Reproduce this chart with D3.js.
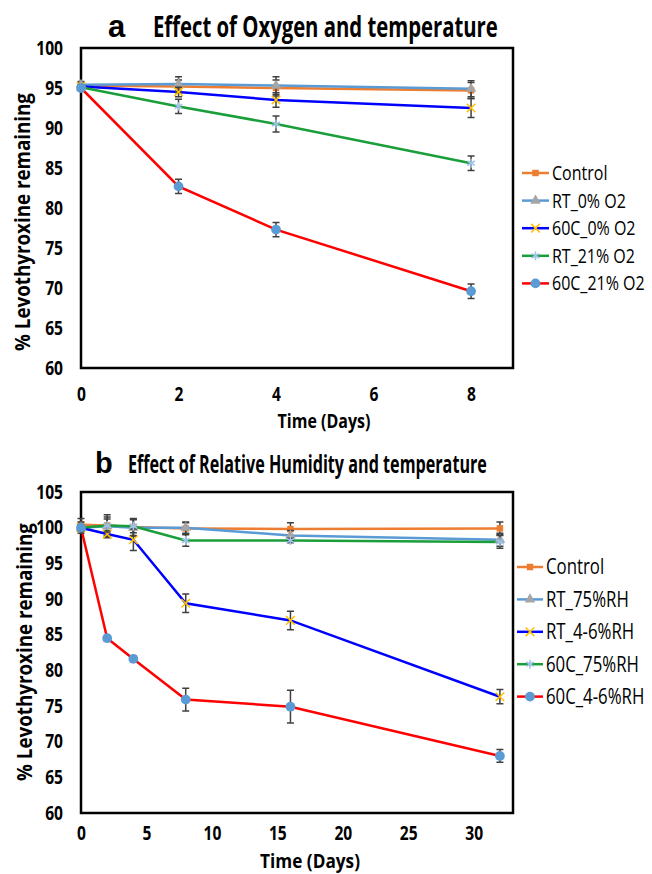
<!DOCTYPE html>
<html>
<head>
<meta charset="utf-8">
<script src="https://cdn.jsdelivr.net/npm/d3@7"></script>
<style>
body { margin: 0; background: #fff; }
svg { display: block; font-family: 'Open Sans', sans-serif; }
</style>
</head>
<body>
<div id="chart"></div>
<script>
// panel a : oxygen
var daysA = [0, 2, 4, 8];
var namesA = ['Control', 'RT_0% O2', '60C_0% O2', 'RT_21% O2', '60C_21% O2'];
var valuesA = [
    [95.3, 95.2, 95.0, 94.7],
    [95.4, 95.5, 95.3, 94.9],
    [95.2, 94.5, 93.5, 92.5],
    [95.1, 92.7, 90.5, 85.6],
    [95.0, 82.7, 77.3, 69.6]
];
var errorsA = [
    [0.4, 0.8, 1.0, 1.0],
    [0.4, 0.9, 1.1, 1.0],
    [0.3, 0.6, 0.9, 1.2],
    [0.3, 0.9, 1.0, 0.9],
    [0.3, 0.9, 0.9, 0.9]
];
var xTicksA = [0, 2, 4, 6, 8];
var yTicksA = [60, 65, 70, 75, 80, 85, 90, 95, 100];

// panel b : relative humidity
var daysB = [0, 2, 4, 8, 16, 32];
var namesB = ['Control', 'RT_75%RH', 'RT_4-6%RH', '60C_75%RH', '60C_4-6%RH'];
var valuesB = [
    [100.4, 100.3, 100.1, 99.9, 99.8, 99.9],
    [100.0, 100.2, 100.0, 100.0, 98.9, 98.3],
    [100.0, 99.1, 98.3, 89.4, 87.0, 76.3],
    [100.0, 100.3, 100.2, 98.2, 98.2, 98.0],
    [100.0, 84.5, 81.6, 75.9, 74.9, 68.0]
];
var errorsB = [
    [0.9, 1.5, 1.2, 0.8, 0.9, 0.9],
    [0.8, 1.3, 1.2, 0.8, 0.7, 0.9],
    [0.4, 0.5, 1.5, 1.3, 1.3, 1.0],
    [0.4, 0.9, 0.9, 0.8, 0.3, 0.9],
    [0.4, 0.4, 0.4, 1.6, 2.3, 0.9]
];
var xTicksB = [0, 5, 10, 15, 20, 25, 30];
var yTicksB = [60, 65, 70, 75, 80, 85, 90, 95, 100, 105];

var width = 652, height = 874;

// series styles, same order in both panels
var lineColors = ['#ed7d31', '#5b9bd5', '#0000ff', '#1a9e3a', '#ff0000'];
var markFill = ['#ed7d31', '#a5a5a5', 'none', 'none', '#5b9bd5'];
var markStroke = ['#ed7d31', '#a5a5a5', '#ffc000', '#9dc3e6', '#5b9bd5'];
var markType = [d3.symbolSquare, d3.symbolTriangle, d3.symbolTimes || d3.symbolCross,
    d3.symbolAsterisk || d3.symbolStar, d3.symbolCircle];
var markSize = [42, 48, 50, 55, 75];
var errColor = '#404040';

var svg = d3.select('#chart')
    .append('svg')
    .attr('width', width)
    .attr('height', height);

// the source figure is squeezed sideways, so text is narrowed to fit
function squeeze(sel, k) {
    sel.each(function() {
        var w = this.getComputedTextLength();
        d3.select(this).attr('textLength', w * k).attr('lengthAdjust', 'spacingAndGlyphs');
    });
}
// text placed at (x, y), turned by rot, scaled sideways to width w
function fitText(parent, x, y, rot, w, txt, size, anchor) {
    var gg = parent.append('g');
    var t = gg.append('text')
        .attr('text-anchor', anchor || 'start')
        .attr('font-weight', 'bold')
        .attr('font-size', size)
        .text(txt);
    var k = w / t.node().getComputedTextLength();
    gg.attr('transform', 'translate(' + x + ',' + y + ') rotate(' + rot + ') scale(' + k + ',1)');
    return t;
}

function drawPanel(p) {
    var x = d3.scaleLinear().domain([0, p.xMax]).range([p.left, p.right]);
    var y = d3.scaleLinear().domain([p.yMin, p.yMax]).range([p.bottom, p.top]);
    var g = svg.append('g');

    var xa = g.append('g')
        .attr('transform', 'translate(0,' + p.bottom + ')')
        .call(d3.axisBottom(x).tickValues(p.xTicks).tickSize(0).tickPadding(p.xPad));
    var ya = g.append('g')
        .attr('transform', 'translate(' + p.left + ',0)')
        .call(d3.axisLeft(y).tickValues(p.yTicks).tickSize(0).tickPadding(18));
    g.selectAll('.domain').remove();
    [xa, ya].forEach(function(a) {
        a.attr('font-family', null).attr('font-size', p.tickFont).attr('font-weight', 'bold');
        a.selectAll('text').attr('fill', '#000');
        squeeze(a.selectAll('text'), 0.82);
    });

    // plot frame
    g.append('rect')
        .attr('x', p.left).attr('y', p.top)
        .attr('width', p.right - p.left).attr('height', p.bottom - p.top)
        .attr('fill', 'none').attr('stroke', '#000').attr('stroke-width', 2.5);

    var line = d3.line()
        .x(function(d, i) { return x(p.days[i]); })
        .y(function(d) { return y(d); });

    p.values.forEach(function(vals, s) {
        g.append('path')
            .attr('d', line(vals))
            .attr('fill', 'none')
            .attr('stroke', lineColors[s])
            .attr('stroke-width', 2.5);
    });

    p.values.forEach(function(vals, s) {
        vals.forEach(function(v, i) {
            var e = p.errors[s][i];
            var cx = x(p.days[i]);
            g.append('path')
                .attr('d', 'M' + (cx - 3.5) + ',' + y(v + e) + 'H' + (cx + 3.5) +
                    'M' + cx + ',' + y(v + e) + 'V' + y(v - e) +
                    'M' + (cx - 3.5) + ',' + y(v - e) + 'H' + (cx + 3.5))
                .attr('fill', 'none')
                .attr('stroke', errColor)
                .attr('stroke-width', 1.5);
        });
        g.selectAll(null)
            .data(vals)
            .enter().append('path')
            .attr('transform', function(d, i) { return 'translate(' + x(p.days[i]) + ',' + y(d) + ')'; })
            .attr('d', d3.symbol().type(markType[s]).size(markSize[s]))
            .attr('fill', markFill[s])
            .attr('stroke', markStroke[s])
            .attr('stroke-width', markFill[s] == 'none' ? 1.5 : 0);
    });

    // legend
    p.names.forEach(function(name, s) {
        var ly = p.legTop + s * p.legStep;
        g.append('line')
            .attr('x1', p.legX1).attr('x2', p.legX2)
            .attr('y1', ly).attr('y2', ly)
            .attr('stroke', lineColors[s]).attr('stroke-width', 2.5);
        g.append('path')
            .attr('transform', 'translate(' + ((p.legX1 + p.legX2) / 2) + ',' + ly + ')')
            .attr('d', d3.symbol().type(markType[s]).size(markSize[s]))
            .attr('fill', markFill[s])
            .attr('stroke', markStroke[s])
            .attr('stroke-width', markFill[s] == 'none' ? 1.5 : 0);
        g.append('g')
            .attr('transform', 'translate(' + (p.legX2 + 3) + ',' + ly + ') scale(0.8,1)')
            .append('text')
            .attr('dy', '0.35em')
            .attr('font-size', p.legFont)
            .text(name);
    });

    // titles
    g.append('text')
        .attr('x', p.letterX).attr('y', p.titleY)
        .attr('font-family', 'Liberation Sans, Arial, sans-serif')
        .attr('font-weight', 'bold').attr('font-size', p.letterFont)
        .text(p.letter);
    fitText(g, p.titleX, p.titleY, 0, p.titleW, p.title, p.titleFont);
    fitText(g, p.xTitleX, p.xTitleY, 0, p.xTitleW, 'Time (Days)', p.xTitleFont, 'middle');
    fitText(g, p.yTitleX, p.yTitleY, -90, 258, '% Levothyroxine remaining', 21, 'middle');
}

drawPanel({
    days: daysA, names: namesA, values: valuesA, errors: errorsA,
    xTicks: xTicksA, yTicks: yTicksA,
    left: 81, right: 513, top: 48, bottom: 368,
    xMax: 8.86, yMin: 60, yMax: 100,
    xPad: 20, tickFont: 19,
    legX1: 522, legX2: 549, legTop: 173, legStep: 27.6, legFont: 20,
    letter: 'a', letterX: 108, letterFont: 31,
    title: 'Effect of Oxygen and temperature', titleX: 153, titleY: 37, titleFont: 29, titleW: 345,
    xTitleX: 324, xTitleY: 428, xTitleFont: 20, xTitleW: 93,
    yTitleX: 30, yTitleY: 222
});

drawPanel({
    days: daysB, names: namesB, values: valuesB, errors: errorsB,
    xTicks: xTicksB, yTicks: yTicksB,
    left: 81, right: 513, top: 492, bottom: 813,
    xMax: 33, yMin: 60, yMax: 105,
    xPad: 14, tickFont: 19,
    legX1: 517, legX2: 543, legTop: 567, legStep: 32.4, legFont: 21,
    letter: 'b', letterX: 95, letterFont: 29,
    title: 'Effect of Relative Humidity and temperature', titleX: 128, titleY: 473, titleFont: 25, titleW: 359,
    xTitleX: 310, xTitleY: 868, xTitleFont: 20, xTitleW: 100,
    yTitleX: 32, yTitleY: 652
});
</script>
</body>
</html>
